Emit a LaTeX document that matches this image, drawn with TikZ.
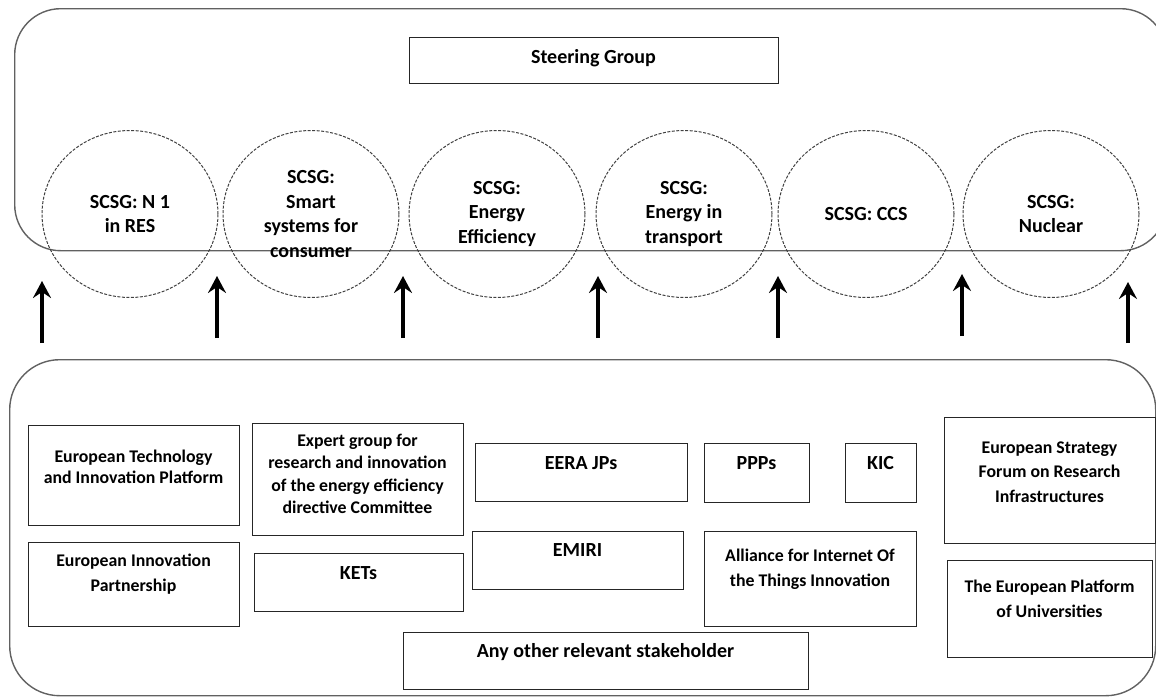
\documentclass[tikz,border=0pt]{standalone}
\usepackage{fontspec}
\setmainfont{Carlito}
\usetikzlibrary{arrows.meta,shapes.geometric}
\tikzset{
  grp/.style={draw=black!62, line width=1.4pt, rounded corners=46pt, anchor=north west, inner sep=0pt},
  sc/.style={draw=black!75, line width=1pt, dash pattern=on 3pt off 1.5pt, ellipse, inner sep=0pt,
             minimum width=176pt, minimum height=167pt, align=center, font=\bfseries\fontsize{20}{24.5}\selectfont},
  bx/.style={draw=black!85, line width=1.2pt, anchor=north west, inner sep=0pt},
  tx/.style={align=center, inner sep=0pt, font=\bfseries\fontsize{20}{24}\selectfont},
  txs/.style={align=center, inner sep=0pt, font=\bfseries\fontsize{17.8}{#1}\selectfont},
  txs/.default=24.5,
  arr/.style={line width=3.8pt, -{Stealth[length=17pt,width=18pt,inset=6pt]}},
}
\begin{document}
\begin{tikzpicture}[x=1pt,y=-1pt]
\useasboundingbox (0,0) rectangle (1156,696);
% group outlines
\node[grp, minimum width=1152pt, minimum height=242pt] (topgrp) at (14,8) {};
\node[grp, rounded corners=50pt, minimum width=1146pt, minimum height=336pt] (botgrp) at (9,359) {};
% steering group
\node[bx, minimum width=369pt, minimum height=46pt] (sg) at (409,37) {};
\node[tx] (sgt) at (593.5,58) {Steering Group};
% sub-groups
\node[sc] (c1) at (130,214) {SCSG: N 1\\in RES};
\node[sc] (c2) at (311,214) {SCSG:\\Smart\\systems for\\consumer};
\node[sc] (c3) at (497,214) {SCSG:\\Energy\\Efficiency};
\node[sc] (c4) at (684,214) {SCSG:\\Energy in\\transport};
\node[sc] (c5) at (866,214) {SCSG: CCS};
\node[sc] (c6) at (1051,214) {SCSG:\\Nuclear};
% arrows
\foreach \i/\x/\yb/\yt in {1/42/343/281, 2/217/338/276, 3/403/338/276, 4/598/338/276, 5/778/338/276, 6/962/336/274, 7/1128/343/282}{
  \coordinate (s\i) at (\x,\yb);
  \coordinate (e\i) at (\x,\yt);
  \draw[arr] (s\i) -- (e\i);
}
% stakeholder boxes
\node[bx, minimum width=211pt, minimum height=100pt] (etip) at (28,425) {};
\node[txs=21.5] (etipt) at (133.5,467) {European Technology\\and Innovation Platform};
\node[bx, minimum width=211pt, minimum height=84pt] (eip) at (28,542) {};
\node[txs=25] (eipt) at (133.5,574) {European Innovation\\Partnership};
\node[bx, minimum width=211pt, minimum height=112pt] (exp) at (252,423) {};
\node[txs=22.3] (expt) at (357.5,474) {Expert group for\\research and innovation\\of the energy efficiency\\directive Committee};
\node[bx, minimum width=209pt, minimum height=58pt] (kets) at (254,553) {};
\node[tx] (ketst) at (358.5,573) {KETs};
\node[bx, minimum width=212pt, minimum height=58pt] (eera) at (475,443) {};
\node[tx] (eerat) at (581,463) {EERA JPs};
\node[bx, minimum width=105pt, minimum height=59pt] (ppp) at (704,443) {};
\node[tx] (pppt) at (756.5,463) {PPPs};
\node[bx, minimum width=71pt, minimum height=59pt] (kic) at (845,443) {};
\node[tx] (kict) at (880.5,463) {KIC};
\node[bx, minimum width=211pt, minimum height=58pt] (emiri) at (472,531) {};
\node[tx] (emirit) at (577.5,550) {EMIRI};
\node[bx, minimum width=212pt, minimum height=95pt] (aiot) at (704,531) {};
\node[txs=25] (aiott) at (810,569) {Alliance for Internet Of\\the Things Innovation};
\node[bx, minimum width=211pt, minimum height=126pt] (esfri) at (944,417) {};
\node[txs=24.5] (esfrit) at (1049.5,472) {European Strategy\\Forum on Research\\Infrastructures};
\node[bx, minimum width=205pt, minimum height=97pt] (epu) at (947,560) {};
\node[txs=25] (eput) at (1049.5,599) {The European Platform\\of Universities};
\node[bx, minimum width=405pt, minimum height=57pt] (any) at (403,632) {};
\node[tx] (anyt) at (605.5,652) {Any other relevant stakeholder};
\end{tikzpicture}
\end{document}
